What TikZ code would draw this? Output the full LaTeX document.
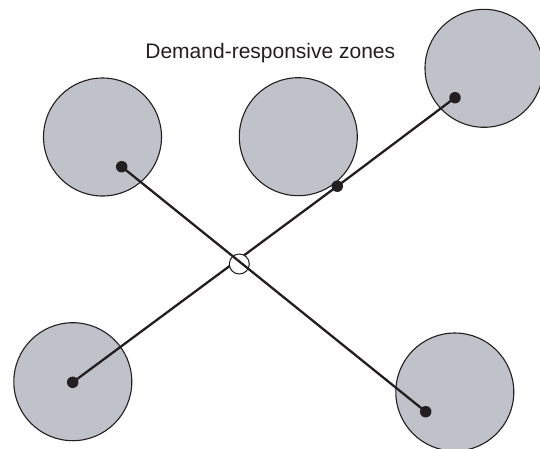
\documentclass[tikz,border=0pt]{standalone}
\usepackage{fontspec}
\setmainfont{Liberation Sans}
\definecolor{zonefill}{RGB}{191,194,201}
\definecolor{ink}{RGB}{35,31,32}
\pgfdeclarelayer{zones}
\pgfdeclarelayer{routeA}
\pgfdeclarelayer{hublayer}
\pgfdeclarelayer{routeB}
\pgfsetlayers{zones,routeA,hublayer,routeB,main}
\tikzset{
  zone/.style={circle, draw=ink, fill=zonefill, line width=1.1pt, minimum size=118pt, inner sep=0pt},
  stopdot/.style={circle, fill=ink, minimum size=11.5pt, inner sep=0pt},
  hubstop/.style={circle, draw=ink, fill=white, line width=1pt, minimum size=20pt, inner sep=0pt},
  route/.style={draw=ink, line width=2.3pt},
}
\begin{document}
\begin{tikzpicture}[x=1pt, y=-1pt]
\useasboundingbox (0,0) rectangle (540,448);

% demand-responsive zones
\begin{pgfonlayer}{zones}
  \node[zone] (zoneTL) at (102.5,137) {};
  \node[zone] (zoneTM) at (298.3,136.7) {};
  \node[zone] (zoneTR) at (484,68.3) {};
  \node[zone] (zoneBL) at (72.8,381.7) {};
  \node[zone] (zoneBR) at (454.8,392) {};
\end{pgfonlayer}

% stops
\node[stopdot] (stopTL) at (121.7,166.7) {};
\node[stopdot] (stopTR) at (455,97.7) {};
\node[stopdot] (stopMid) at (337.3,186.2) {};
\node[stopdot] (stopBL) at (72.7,382.3) {};
\node[stopdot] (stopBR) at (425.7,411.7) {};

% transfer hub
\begin{pgfonlayer}{hublayer}
  \node[hubstop] (hub) at (239.3,264) {};
\end{pgfonlayer}

% fixed routes
\begin{pgfonlayer}{routeA}
  \draw[route] (stopBL.center) -- (stopMid.center) -- (stopTR.center);
\end{pgfonlayer}
\begin{pgfonlayer}{routeB}
  \draw[route] (stopTL.center) -- (stopBR.center);
\end{pgfonlayer}

\node[anchor=base, text=ink, inner sep=0pt, font=\fontsize{21}{25}\selectfont] (title) at (270.3,58.3) {Demand-responsive zones};
\end{tikzpicture}
\end{document}
